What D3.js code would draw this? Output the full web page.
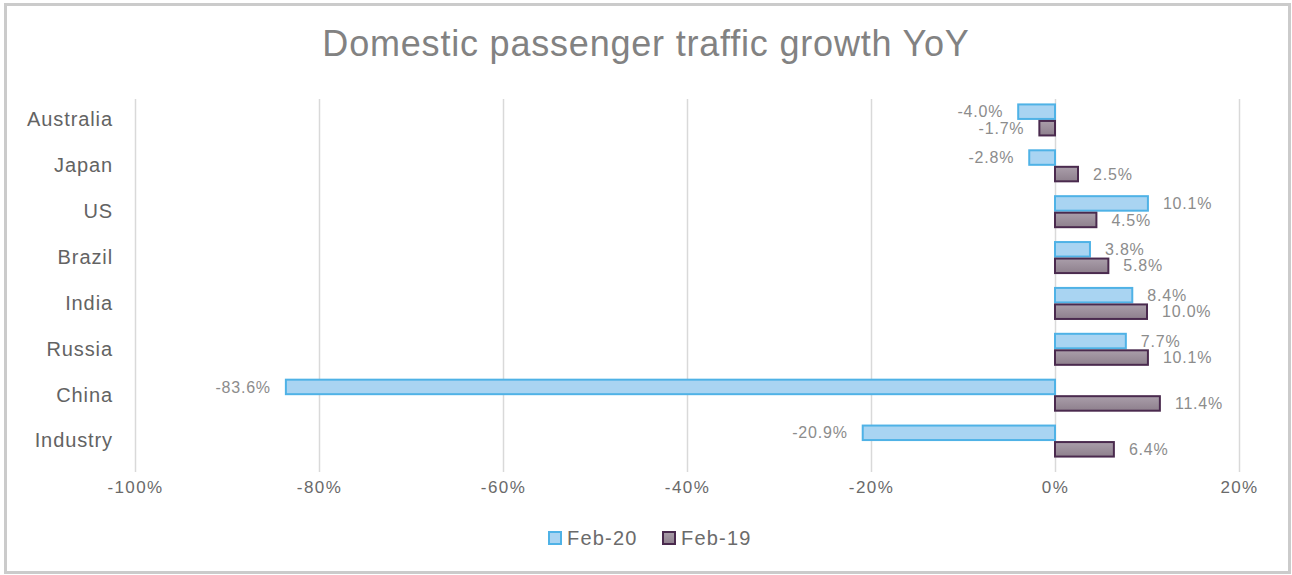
<!DOCTYPE html>
<html>
<head>
<meta charset="utf-8">
<script src="https://cdn.jsdelivr.net/npm/d3@7"></script>
<style>
  html, body { margin: 0; padding: 0; background: #fff; }
  svg { display: block; font-family: "Liberation Sans", Arial, Helvetica, sans-serif; }
</style>
</head>
<body>
<svg id="chart" width="1292" height="575"></svg>
<script>
// Domestic passenger traffic growth, year over year (%)
const categories = ["Australia", "Japan", "US", "Brazil", "India", "Russia", "China", "Industry"];
const seriesNames = ["Feb-20", "Feb-19"];
const feb20 = [-4.0, -2.8, 10.1, 3.8, 8.4, 7.7, -83.6, -20.9];
const feb19 = [-1.7, 2.5, 4.5, 5.8, 10.0, 10.1, 11.4, 6.4];
const xTicks = [-100, -80, -60, -40, -20, 0, 20];

const svg = d3.select("#chart");

const defs = svg.append("defs");
const grad = defs.append("linearGradient")
  .attr("id", "feb19Fill").attr("x1", 0).attr("y1", 0).attr("x2", 0).attr("y2", 1);
grad.append("stop").attr("offset", "0%").attr("stop-color", "#aa9eaa");
grad.append("stop").attr("offset", "100%").attr("stop-color", "#8e808d");

const styles = {
  "Feb-20": { fill: "#a9d4f2", stroke: "#4fb2e6" },
  "Feb-19": { fill: "url(#feb19Fill)", stroke: "#4a2a4e" }
};

// chart frame
svg.append("rect")
  .attr("x", 5.5).attr("y", 4.5).attr("width", 1284).attr("height", 568)
  .attr("fill", "#fff").attr("stroke", "#cbcbcb").attr("stroke-width", 3);

// title
svg.append("text")
  .attr("x", 646).attr("y", 56)
  .attr("text-anchor", "middle")
  .attr("font-size", 36)
  .attr("letter-spacing", 0.8)
  .attr("fill", "#828282")
  .text("Domestic passenger traffic growth YoY");

const x = d3.scaleLinear().domain([-100, 20]).range([135, 1239]);
const y = d3.scaleBand().domain(categories).range([97, 464]).paddingInner(0.28).paddingOuter(0.14);
const ySub = d3.scaleBand().domain(seriesNames).range([0, y.bandwidth()]);

// vertical gridlines
const grid = svg.append("g")
  .attr("transform", "translate(0,99)")
  .call(d3.axisBottom(x).tickValues(xTicks).tickSize(373).tickFormat(""));
grid.select(".domain").remove();
grid.selectAll(".tick line").attr("stroke", "#d9d9d9").attr("stroke-width", 1.5);

// x tick labels
const xAxis = svg.append("g")
  .attr("transform", "translate(0,478)")
  .call(d3.axisBottom(x).tickValues(xTicks).tickSize(0).tickFormat(d => d + "%"));
xAxis.select(".domain").remove();
xAxis.selectAll("text")
  .attr("font-family", "Liberation Sans, Arial, sans-serif")
  .attr("font-size", 17)
  .attr("letter-spacing", 1.4)
  .attr("fill", "#6a6a6a");

// category labels
const yAxis = svg.append("g")
  .attr("transform", "translate(123,0)")
  .call(d3.axisLeft(y).tickSize(0).tickPadding(10));
yAxis.select(".domain").remove();
yAxis.selectAll("text")
  .attr("font-family", "Liberation Sans, Arial, sans-serif")
  .attr("font-size", 20)
  .attr("letter-spacing", 0.9)
  .attr("fill", "#636363");

// bars
const rows = categories.map((c, i) => ({ cat: c, values: [
  { series: "Feb-20", value: feb20[i] },
  { series: "Feb-19", value: feb19[i] }
]}));

const groups = svg.append("g").selectAll("g")
  .data(rows).join("g")
  .attr("transform", d => `translate(0,${y(d.cat)})`);

groups.selectAll("rect")
  .data(d => d.values).join("rect")
  .attr("x", d => x(Math.min(0, d.value)))
  .attr("y", d => ySub(d.series) + 1)
  .attr("width", d => Math.abs(x(d.value) - x(0)))
  .attr("height", ySub.bandwidth() - 2)
  .attr("fill", d => styles[d.series].fill)
  .attr("stroke", d => styles[d.series].stroke)
  .attr("stroke-width", 2);

// value labels
groups.selectAll("text")
  .data(d => d.values).join("text")
  .attr("x", d => d.value < 0 ? x(d.value) - 15 : x(d.value) + 15)
  .attr("y", d => ySub(d.series) + ySub.bandwidth() / 2)
  .attr("dy", "0.35em")
  .attr("text-anchor", d => d.value < 0 ? "end" : "start")
  .attr("font-size", 16)
  .attr("letter-spacing", 0.8)
  .attr("fill", "#8c8c8c")
  .text(d => d.value.toFixed(1) + "%");

// legend
const legend = svg.append("g").attr("transform", "translate(548,531)");
const items = legend.selectAll("g").data(seriesNames).join("g")
  .attr("transform", (d, i) => `translate(${i * 114},0)`);
items.append("rect")
  .attr("x", 1).attr("y", 1).attr("width", 12).attr("height", 12)
  .attr("fill", d => styles[d].fill)
  .attr("stroke", d => styles[d].stroke)
  .attr("stroke-width", 2);
items.append("text")
  .attr("x", 19).attr("y", 7)
  .attr("dy", "0.35em")
  .attr("font-size", 20)
  .attr("letter-spacing", 1.2)
  .attr("fill", "#6b6b6b")
  .text(d => d);
</script>
</body>
</html>
